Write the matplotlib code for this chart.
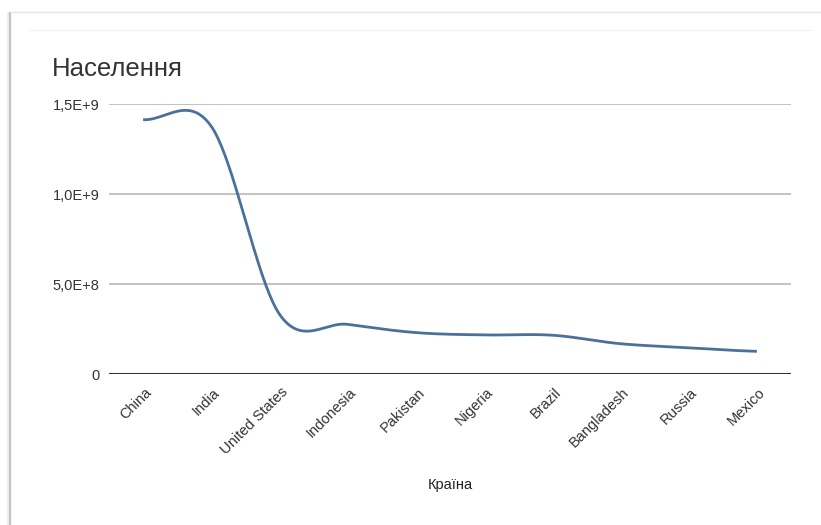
import numpy as np
import matplotlib
matplotlib.use("Agg")
import matplotlib.pyplot as plt
from matplotlib.lines import Line2D
from matplotlib.transforms import ScaledTranslation

plt.rcParams['font.family'] = ['Liberation Sans', 'DejaVu Sans']

title = "Населення"
x_title = "Країна"
countries = ["China", "India", "United States", "Indonesia", "Pakistan",
             "Nigeria", "Brazil", "Bangladesh", "Russia", "Mexico"]
population = [1.4126e9, 1.3756e9, 0.3320e9, 0.2758e9, 0.2300e9,
              0.2170e9, 0.2155e9, 0.1682e9, 0.1460e9, 0.1260e9]
y_ticks = [0, 5e8, 1e9, 1.5e9]
y_tick_labels = ["0", "5,0E+8", "1,0E+9", "1,5E+9"]


def catmull_rom(values, samples=40):
    """Smooth curve through every point (cubic Hermite, Catmull-Rom tangents)."""
    p = np.asarray(values, dtype=float)
    n = len(p)
    m = np.empty(n)
    m[1:-1] = (p[2:] - p[:-2]) / 2.0
    m[0] = (p[1] - p[0]) / 2.0
    m[-1] = (p[-1] - p[-2]) / 2.0
    xs, ys = [], []
    for i in range(n - 1):
        t = np.linspace(0, 1, samples, endpoint=(i == n - 2))
        h00 = 2 * t**3 - 3 * t**2 + 1
        h10 = t**3 - 2 * t**2 + t
        h01 = -2 * t**3 + 3 * t**2
        h11 = t**3 - t**2
        xs.append(i + t)
        ys.append(h00 * p[i] + h10 * m[i] + h01 * p[i + 1] + h11 * m[i + 1])
    return np.concatenate(xs), np.concatenate(ys)


W, H = 821, 525
fig = plt.figure(figsize=(W / 100, H / 100), dpi=100)
fig.patch.set_facecolor("white")

# card frame: shaded left edge, thin top edge, faint inner header rule
def px_line(x0, y0, x1, y1, color, lw):
    fig.add_artist(Line2D([x0 / W, x1 / W], [1 - y0 / H, 1 - y1 / H],
                          transform=fig.transFigure, color=color, lw=lw,
                          solid_capstyle="butt"))

px_line(8, 12, 8, H, "#ececec", 1.2)
px_line(10, 12, 10, H, "#c4c4c4", 1.6)
px_line(10, 12, W, 12, "#e4e4e4", 1.0)
px_line(28, 30, 812, 30, "#f2f2f2", 0.8)

left, right, top, bottom = 109, 791, 104, 374
ax = fig.add_axes([left / W, 1 - bottom / H, (right - left) / W, (bottom - top) / H])
ax.set_facecolor("none")

xs, ys = catmull_rom(population)
ax.plot(xs, ys, color="#4a7199", lw=2.0, solid_capstyle="butt", zorder=3)

n = len(countries)
ax.set_xlim(-0.5, n - 0.5)
ax.set_ylim(0, 1.5e9)

ax.set_yticks(y_ticks)
ax.set_yticklabels(y_tick_labels)
ax.grid(axis="y", color="#c2c2c2", lw=1.4)
ax.axhline(0, color="#333333", lw=1.5, zorder=4)
for s in ax.spines.values():
    s.set_visible(False)
ax.tick_params(axis="both", length=0, labelsize=10.5, colors="#333333")
ax.tick_params(axis="y", pad=7)

ax.set_xticks(range(n))
ax.set_xticklabels(countries, rotation=45, ha="right", rotation_mode="anchor")
ax.tick_params(axis="x", pad=8)
shift = ScaledTranslation(1.5 / 100, 0, fig.dpi_scale_trans)
for lab in ax.get_xticklabels():
    lab.set_transform(lab.get_transform() + shift)

fig.text(52 / W, 1 - 76 / H, title, fontsize=18.5, color="#333333",
         ha="left", va="baseline")
fig.text(450 / W, 1 - 485 / H, x_title, fontsize=10.5, color="#222222",
         ha="center", va="center")

fig.savefig("out.png", dpi=100, facecolor="white")
